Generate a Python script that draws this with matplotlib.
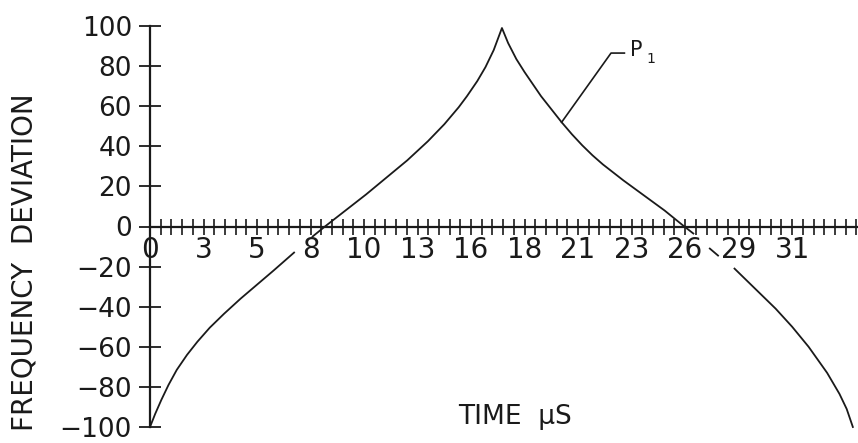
import numpy as np
import matplotlib
matplotlib.use("Agg")
import matplotlib.pyplot as plt

plt.rcParams['font.family'] = ['DejaVu Sans']

# curve P1 (nan = where the line is broken by tick labels)
time_us = [0, 0.25, 0.55, 0.9, 1.3, 1.8, 2.3, 2.9, 3.6, 4.4, 5.2, 6.0, 7.0, np.nan,
           7.9, 8.5, 9.5, 10.5, 11.5, 12.5, 13.5, 14.3, 15.0, 15.4, 15.9, 16.3, 16.7, 17.1,
           17.4, 17.8, 18.2, 18.6, 19.0, 19.5, 20.0, 20.5, 21.0, 21.5, 22.0, 23.0,
           24.0, 25.0, 25.9, 26.4, np.nan,
           27.2, 27.6, np.nan,
           28.4, 29.6, 30.4, 31.2, 32.0, 32.9, 33.5, 33.85, 34.15]
freq_dev = [-100, -93.5, -86.5, -79, -71.5, -64, -57.5, -50.5, -43.5, -36, -29, -22, -13, np.nan,
            -5, 0, 8, 16, 24.5, 33, 42.5, 51, 59.5, 65, 72.5, 79.5, 88, 99,
            91.5, 83.5, 77, 71, 65, 58.5, 52, 46, 40.5, 35.5, 31, 23,
            15.5, 8, 0.5, -3.5, np.nan,
            -11, -14.5, np.nan,
            -21, -33, -41, -50, -60, -73, -83.5, -91, -100]

x_tick_labels = ['0', '3', '5', '8', '10', '13', '16', '18', '21', '23', '26', '29', '31']
x_tick_step = 2.6
x_minor_step = 0.52
y_ticks = [-100, -80, -60, -40, -20, 0, 20, 40, 60, 80, 100]

fig = plt.figure(figsize=(8.58, 4.43), dpi=100)
ax = fig.add_axes([150 / 858, 16 / 443, 708 / 858, 401 / 443])

ink = '#1a1a1a'
ax.plot(time_us, freq_dev, color=ink, lw=1.3, clip_on=False,
        solid_joinstyle='round')

# leader line and label for P1
ax.plot([20.0, 22.4, 23.05], [52, 86.5, 86.5], color=ink, lw=1.2)
ax.text(23.3, 88, 'P', fontsize=15, color=ink, va='center', ha='left')
ax.text(24.1, 83.5, '1', fontsize=10, color=ink, va='center', ha='left')

ax.set_xlim(0, 34.4)
ax.set_ylim(-100, 100)

for side in ['top', 'right']:
    ax.spines[side].set_visible(False)
ax.spines['left'].set_position(('data', 0))
ax.spines['bottom'].set_position(('data', 0))
for side in ['left', 'bottom']:
    ax.spines[side].set_linewidth(1.6)
    ax.spines[side].set_color(ink)

ax.set_xticks([i * x_tick_step for i in range(len(x_tick_labels))])
ax.set_xticklabels(x_tick_labels)
ax.set_xticks(np.arange(0, 34.4, x_minor_step), minor=True)
ax.tick_params(axis='x', which='both', direction='inout', length=12, width=1.2,
               colors=ink, labelsize=20, pad=1)

ax.set_yticks(y_ticks)
ax.set_yticklabels([str(v) if v >= 0 else '\u2212' + str(-v) for v in y_ticks])
ax.tick_params(axis='y', direction='inout', length=16, width=1.3,
               colors=ink, labelsize=19, pad=5)

fig.text(25 / 858, 1 - 262 / 443, 'FREQUENCY  DEVIATION', rotation=90,
         ha='center', va='center', fontsize=20, color=ink)
fig.text(515 / 858, 1 - 417 / 443, 'TIME  \u03bcS', ha='center', va='center',
         fontsize=19, color=ink)

fig.savefig('out.png', dpi=100, facecolor='white')
